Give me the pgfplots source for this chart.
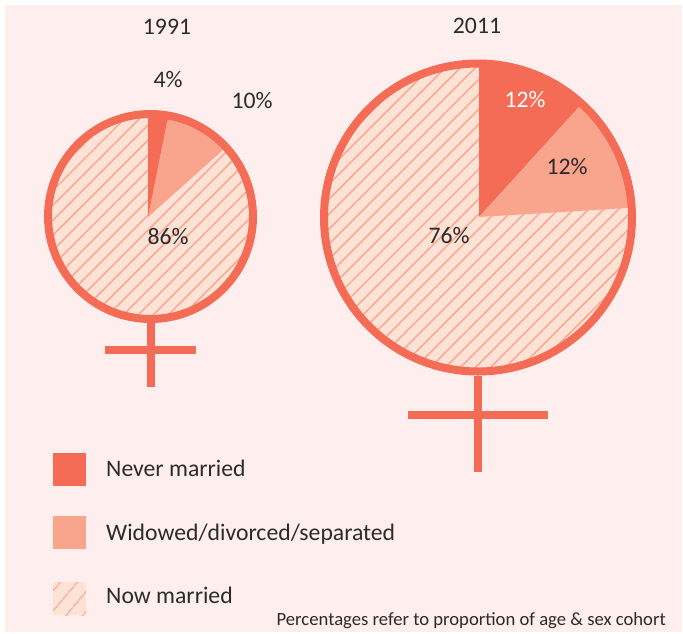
\documentclass[border=0pt]{standalone}
\usepackage{fontspec}
\setmainfont{Carlito}
\usepackage{pgfplots}
\usepackage{pgfplotstable}
\pgfplotsset{compat=1.18}
\usetikzlibrary{patterns.meta}

\definecolor{bgpink}{HTML}{FEEFEE}
\definecolor{never}{HTML}{F46C56}
\definecolor{widowed}{HTML}{F9A48C}
\definecolor{nowfill}{HTML}{FDE2D5}
\definecolor{txt}{HTML}{2B2B2B}

% outlines in picture pixels, y downwards
\pgfplotstableread{
x y
150.5 114.5
176.9 118
201.5 128.2
222.6 144.4
238.8 165.5
249 190.1
252.5 216.5
249 242.9
238.8 267.5
222.6 288.6
201.5 304.8
176.9 315
150.5 318.5
124.1 315
99.5 304.8
78.4 288.6
62.2 267.5
52 242.9
48.5 216.5
52 190.1
62.2 165.5
78.4 144.4
99.5 128.2
124.1 118
}\discA
\pgfplotstableread{
x y
478 63.5
517.9 68.7
555 84.1
586.9 108.6
611.4 140.5
626.8 177.6
632 217.5
626.8 257.4
611.4 294.5
586.9 326.4
555 350.9
517.9 366.3
478 371.5
438.1 366.3
401 350.9
369.1 326.4
344.6 294.5
329.2 257.4
324 217.5
329.2 177.6
344.6 140.5
369.1 108.6
401 84.1
438.1 68.7
}\discB

\tikzset{
  hatch/.style={draw=none, pattern={Lines[angle=45,distance=10.6pt,line width=1.4pt]}, pattern color=widowed},
  hatchkey/.style={draw=none, pattern={Lines[angle=50,distance=13pt,line width=1.4pt]}, pattern color=widowed},
  lab/.style={text=txt, font=\fontsize{23.7}{26}\selectfont, inner sep=0pt},
}

\begin{document}
\begin{tikzpicture}
\begin{axis}[
  width=683pt, height=633pt,
  scale only axis,
  xmin=0, xmax=683, ymin=0, ymax=633,
  y dir=reverse,
  hide axis,
]
% page and panel
\addplot[fill=white, draw=none] coordinates {(0,0) (683,0) (683,633) (0,633)} -- cycle;
\addplot[fill=bgpink, draw=none] coordinates {(5,5) (682,5) (682,632) (5,632)} -- cycle;

% 1991
\addplot[fill=nowfill, draw=none] table {\discA} -- cycle;
\addplot[hatch] table {\discA} -- cycle;
\addplot[fill=widowed, draw=none] coordinates {(148,217) (168.2,116.1) (185.4,120.7) (201.5,128.2) (216.1,138.4) (226,147.3)} -- cycle;
\addplot[fill=never, draw=none] coordinates {(148,217) (148,114) (168.2,116.1)} -- cycle;
\addplot[only marks, mark=o, mark size=102.5pt, mark options={line width=8pt, draw=never}] coordinates {(150.5,216.5)};
\addplot[never, line width=8pt] coordinates {(151,323) (151,387)};
\addplot[never, line width=8pt] coordinates {(105,350) (196,350)};

% 2011
\addplot[fill=nowfill, draw=none] table {\discB} -- cycle;
\addplot[hatch] table {\discB} -- cycle;
\addplot[fill=never, draw=none] coordinates {(479,217) (479,63.5) (517.9,68.7) (555,84.1) (570.7,94.5) (582,103.7)} -- cycle;
\addplot[fill=widowed, draw=none] coordinates {(479,217) (582,103.7) (586.9,108.6) (611.4,140.5) (626.8,177.6) (632,207.7)} -- cycle;
\addplot[only marks, mark=o, mark size=154pt, mark options={line width=8pt, draw=never}] coordinates {(478,217.5)};
\addplot[never, line width=8pt] coordinates {(478,376) (478,472)};
\addplot[never, line width=8pt] coordinates {(408,414.5) (548,414.5)};

% legend
\addplot[fill=never, draw=none] coordinates {(53,453) (86,453) (86,486) (53,486)} -- cycle;
\addplot[fill=widowed, draw=none] coordinates {(53,516) (86,516) (86,549) (53,549)} -- cycle;
\addplot[fill=nowfill, draw=none] coordinates {(53,582) (86,582) (86,615) (53,615)} -- cycle;
\addplot[hatchkey] coordinates {(53,582) (86,582) (86,615) (53,615)} -- cycle;

\node[lab] at (axis cs:167,27) {1991};
\node[lab] at (axis cs:477,26) {2011};
\node[lab] at (axis cs:168,80) {4\%};
\node[lab] at (axis cs:252,101) {10\%};
\node[lab] at (axis cs:168,236) {86\%};
\node[lab, text=white] at (axis cs:525,100) {12\%};
\node[lab] at (axis cs:567,167) {12\%};
\node[lab] at (axis cs:449,236) {76\%};
\node[lab, anchor=base west] at (axis cs:106,476) {Never married};
\node[lab, anchor=base west] at (axis cs:106,540) {Widowed/divorced/separated};
\node[lab, anchor=base west] at (axis cs:106,603) {Now married};
\node[lab, anchor=base east, font=\fontsize{18.65}{20}\selectfont] at (axis cs:666,625) {Percentages refer to proportion of age \& sex cohort};
\end{axis}
\end{tikzpicture}
\end{document}
